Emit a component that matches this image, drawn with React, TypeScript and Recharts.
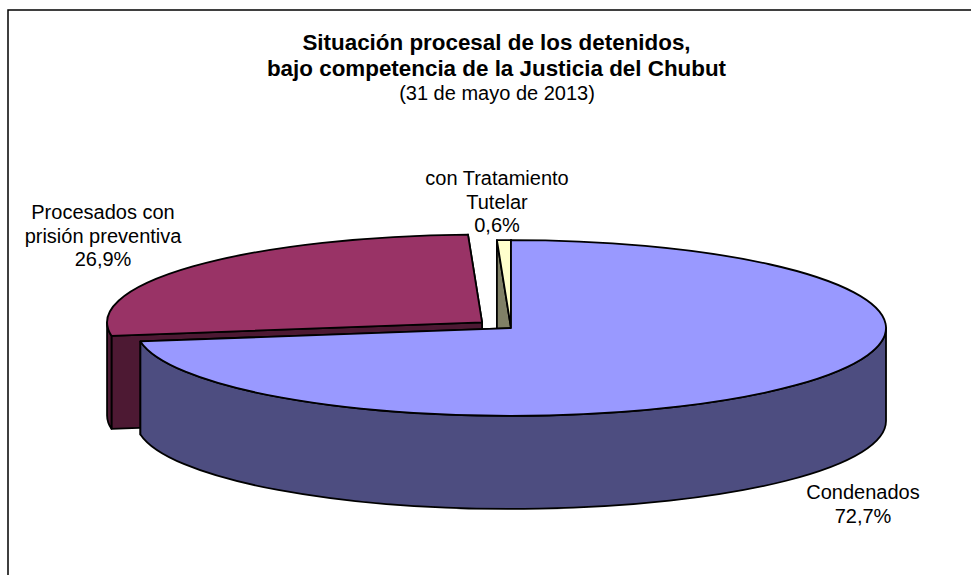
import { PieChart, Pie } from 'recharts';

const categories = ['Procesados con\nprisión preventiva', 'con Tratamiento\nTutelar', 'Condenados'];
const values = [26.9, 0.6, 72.7];
const topColors = ['#993366', '#FFFFCC', '#9999FF'];
const sideColors = ['#4D1933', '#808066', '#4D4D80'];
const labelCenters = [
  { x: 103, y: 212 },
  { x: 497, y: 178 },
  { x: 863, y: 492 },
];

const data = categories.map((name, i) => ({ name, value: values[i] }));

// the pie is drawn flat by recharts' angles, then squashed to look 3d
const SQUASH = 0.2345;
const DEPTH = 93;
const EXPLODE = [0.1, 0, 0];

const rad = (a: number) => (a * Math.PI) / 180;

const Slice3D = (props: any) => {
  const { cx, cy, outerRadius, startAngle, endAngle, index } = props;
  const rx = outerRadius;
  const ry = outerRadius * SQUASH;
  const mid = rad((startAngle + endAngle) / 2);
  const ox = cx + Math.cos(mid) * rx * EXPLODE[index];
  const oy = cy - Math.sin(mid) * ry * EXPLODE[index];
  const pt = (a: number) => [ox + rx * Math.cos(rad(a)), oy - ry * Math.sin(rad(a))];

  const [sx, sy] = pt(startAngle);
  const [ex, ey] = pt(endAngle);
  const large = Math.abs(startAngle - endAngle) > 180 ? 1 : 0;
  const top = `M${ox},${oy} L${sx},${sy} A${rx},${ry} 0 ${large} 1 ${ex},${ey} Z`;

  const quad = (x: number, y: number) =>
    `M${ox},${oy} L${x},${y} L${x},${y + DEPTH} L${ox},${oy + DEPTH} Z`;
  // back cut face first so the nearer one covers it
  const cuts = [[sx, sy], [ex, ey]].sort((a, b) => a[1] - b[1]);

  // only the part of the rim facing the viewer gets a wall
  const hi = Math.max(startAngle, endAngle);
  const lo = Math.min(startAngle, endAngle);
  const walls: string[] = [];
  [[-180, 0], [180, 360]].forEach(([a, b]) => {
    const from = Math.min(hi, b);
    const to = Math.max(lo, a);
    if (from > to) {
      const [x1, y1] = pt(from);
      const [x2, y2] = pt(to);
      const big = from - to > 180 ? 1 : 0;
      walls.push(
        `M${x1},${y1} A${rx},${ry} 0 ${big} 1 ${x2},${y2} L${x2},${y2 + DEPTH} A${rx},${ry} 0 ${big} 0 ${x1},${y1 + DEPTH} Z`,
      );
    }
  });

  return (
    <g stroke="#000" strokeWidth={1.8} strokeLinejoin="round">
      {cuts.map(([x, y], i) => (
        <path key={i} d={quad(x, y)} fill={sideColors[index]} />
      ))}
      {walls.map((d, i) => (
        <path key={i} d={d} fill={sideColors[index]} />
      ))}
      <path d={top} fill={topColors[index]} />
    </g>
  );
};

const renderLabel = (props: any) => {
  const { index, name, value } = props;
  const lines = [...String(name).split('\n'), `${Number(value).toFixed(1).replace('.', ',')}%`];
  const c = labelCenters[index];
  return (
    <text key={index} x={c.x} y={c.y + 7} textAnchor="middle" fontSize={20} fill="#000" stroke="none">
      {lines.map((l, i) => (
        <tspan key={i} x={c.x} dy={i === 0 ? 0 : 23.5}>
          {l}
        </tspan>
      ))}
    </text>
  );
};

export default function App() {
  return (
    <div style={{ position: 'absolute', left: 0, top: 0, width: 971, height: 575, overflow: 'hidden', fontFamily: 'Liberation Sans' }}>
      <PieChart width={971} height={575} margin={{ top: 0, right: 0, bottom: 0, left: 0 }}>
        <rect x={8} y={10} width={1100} height={700} fill="none" stroke="#000" strokeWidth={1.5} />
        <text x={496.5} y={50} textAnchor="middle" fontSize={22.4} fontWeight="bold" fill="#000">
          Situación procesal de los detenidos,
        </text>
        <text x={496.5} y={76} textAnchor="middle" fontSize={22.4} fontWeight="bold" fill="#000">
          bajo competencia de la Justicia del Chubut
        </text>
        <text x={497} y={100} textAnchor="middle" fontSize={20} fill="#000">
          (31 de mayo de 2013)
        </text>
        <Pie
          data={data}
          dataKey="value"
          nameKey="name"
          cx={511}
          cy={328}
          innerRadius={0}
          outerRadius={375}
          startAngle={188.8}
          endAngle={-171.2}
          paddingAngle={0}
          shape={Slice3D}
          label={renderLabel}
          labelLine={false}
          isAnimationActive={false}
        />
      </PieChart>
    </div>
  );
}
